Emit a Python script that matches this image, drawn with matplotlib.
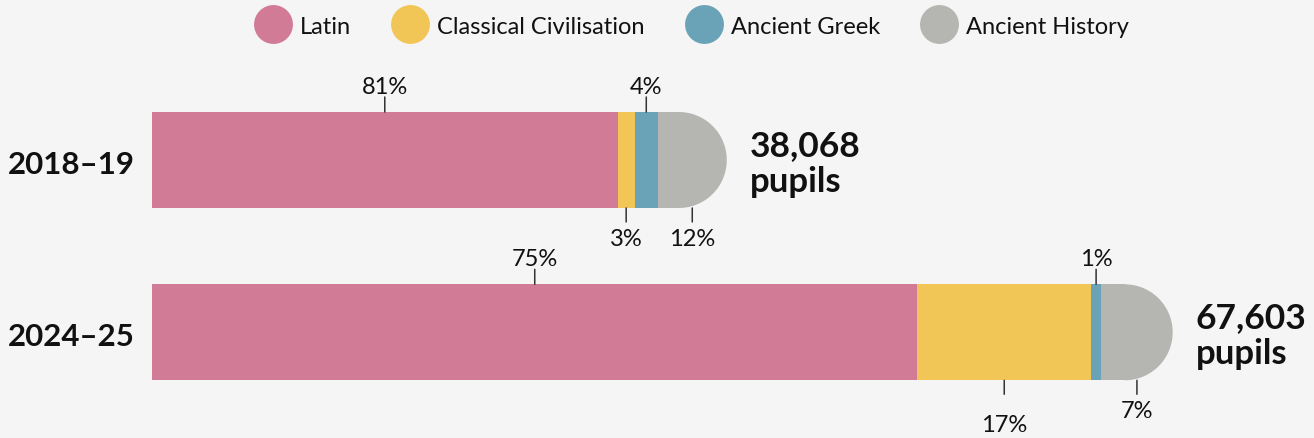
import matplotlib
matplotlib.use("Agg")
import matplotlib.pyplot as plt
import numpy as np
from matplotlib.patches import Rectangle, Polygon
from matplotlib.lines import Line2D

plt.rcParams['font.family'] = ['Lato', 'DejaVu Sans']

# ---- data ----
years = ["2018\u201319", "2024\u201325"]
totals = [38068, 67603]
subjects = ["Latin", "Classical Civilisation", "Ancient Greek", "Ancient History"]
shares_2018 = [81, 3, 4, 12]
shares_2024 = [75, 17, 1, 7]
shares = [shares_2018, shares_2024]

# ---- style ----
colors = ["#d17b96", "#f2c557", "#6aa3b8", "#b5b5b1"]
bg = "#f5f5f5"
txt = "#111111"
# label side per segment: +1 above, -1 below ; extra drop for a label (px)
sides = [[1, -1, 1, -1], [1, -1, 1, -1]]
extra_drop = [[0, 0, 0, 0], [0, 14, 0, 0]]

W, H = 1314, 439
fig = plt.figure(figsize=(W / 100, H / 100), dpi=100, facecolor=bg)
ax = fig.add_axes([0, 0, 1, 1])
ax.set_facecolor(bg)
ax.set_xlim(-10068, 76965)
ax.set_ylim(1.6135, -0.9344)
ax.axis("off")

bar_h = 0.557
px_per_x = W / (76965 + 10068)
px_per_y = H / (1.6135 + 0.9344)
r_data = (bar_h / 2) * px_per_y / px_per_x  # radius of cap in x data units

for row, (tot, sh) in enumerate(zip(totals, shares)):
    vals = [tot * s / 100 for s in sh]
    left = 0
    n = len(vals)
    for i, v in enumerate(vals):
        width = v
        if i == n - 1:
            width = tot - r_data - left
        ax.add_patch(Rectangle((left, row - bar_h / 2), width, bar_h,
                               facecolor=colors[i], edgecolor="none", zorder=2))
        if i == n - 1:
            th = np.linspace(-np.pi / 2, np.pi / 2, 120)
            cx = tot - r_data
            xs = cx + r_data * np.cos(th)
            ys = row + (bar_h / 2) * np.sin(th)
            xs = np.concatenate([[cx], xs, [cx]])
            ys = np.concatenate([[row - bar_h / 2], ys, [row + bar_h / 2]])
            ax.add_patch(Polygon(np.column_stack([xs, ys]), closed=True,
                                 facecolor=colors[i], edgecolor="none", zorder=2))
        # label
        cxm = left + v / 2
        side = sides[row][i]
        edge = row - bar_h / 2 if side > 0 else row + bar_h / 2
        tick_len = 15 if side > 0 else 14
        ax.annotate("", xy=(cxm, edge), xytext=(0, side * tick_len),
                    textcoords="offset pixels",
                    arrowprops=dict(arrowstyle="-", shrinkA=0, shrinkB=0,
                                    lw=1.1, color="#333333"), zorder=3)
        dy = 19 if side > 0 else -(37 + extra_drop[row][i])
        ax.annotate(f"{sh[i]}%", xy=(cxm, edge), xytext=(0, dy),
                    textcoords="offset pixels", ha="center", va="baseline",
                    fontsize=17, color=txt)
        left += v

    # total label
    ax.annotate(f"{tot:,}", xy=(tot, row), xytext=(23, 5), textcoords="offset pixels",
                ha="left", va="baseline", fontsize=25.5, fontweight="bold", color=txt)
    ax.annotate("pupils", xy=(tot, row), xytext=(23, -31), textcoords="offset pixels",
                ha="left", va="baseline", fontsize=25, fontweight="bold", color=txt)
    # year label
    ax.annotate(years[row], xy=(0, row), xycoords=("axes fraction", "data"),
                xytext=(8, -13), textcoords="offset pixels",
                ha="left", va="baseline", fontsize=22.5, fontweight="bold", color=txt)

handles = [Line2D([], [], marker="o", linestyle="none", markersize=28,
                  markerfacecolor=c, markeredgecolor="none") for c in colors]
fig.legend(handles, subjects, loc="center", bbox_to_anchor=(0.529, 0.938), ncol=4,
           frameon=False, fontsize=17, handlelength=1.0, handletextpad=0.65,
           columnspacing=2.0, labelcolor=txt)

fig.savefig("out.png", dpi=100, facecolor=bg)
